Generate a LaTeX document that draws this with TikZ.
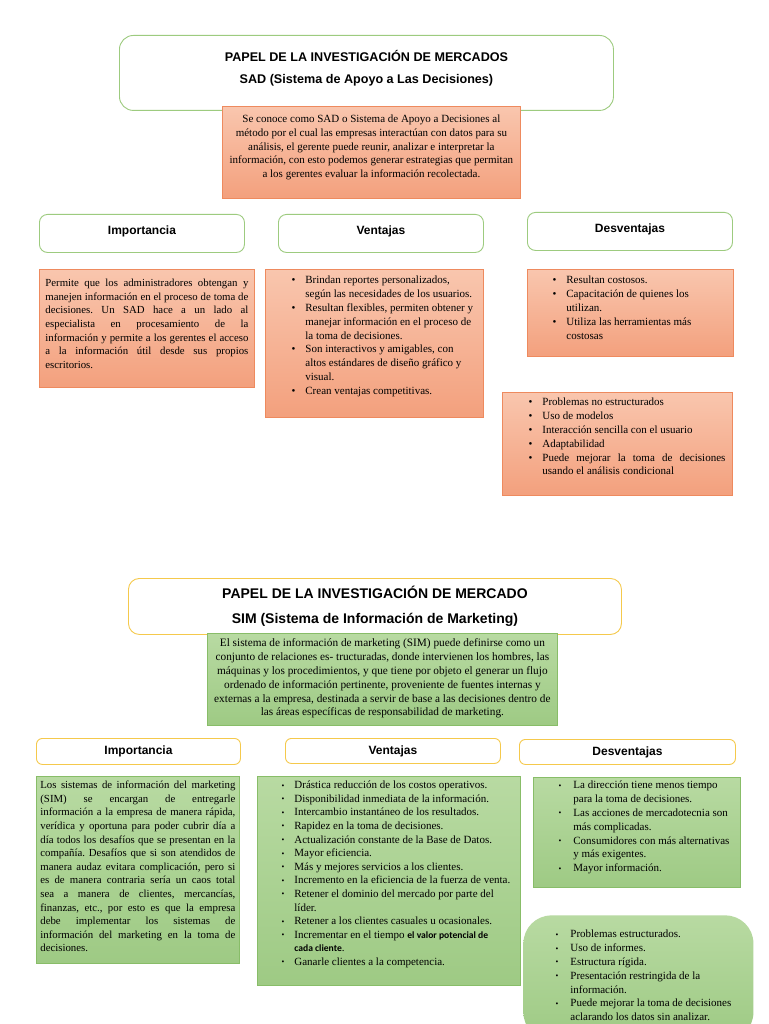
\documentclass[tikz,border=0pt]{standalone}
\usepackage{fontspec}
\setmainfont{Liberation Serif}
\newfontfamily\sanscab{Liberation Sans}
\newfontfamily\calib{Carlito}
\usetikzlibrary{positioning}

\definecolor{verdeTit}{HTML}{9DCB7F}
\definecolor{amarTit}{HTML}{F5C94C}
\definecolor{narArriba}{HTML}{F9C6AE}
\definecolor{narAbajo}{HTML}{F3A07D}
\definecolor{narBorde}{HTML}{EE8A5E}
\definecolor{verArriba}{HTML}{B8DAA2}
\definecolor{verAbajo}{HTML}{9ECA84}
\definecolor{verBorde}{HTML}{88BD68}

\setlength{\parindent}{0pt}
\frenchspacing
% caja de texto de ancho y alto fijos, con margen arriba
\newcommand{\bloque}[4]{\parbox[c][#2][t]{#1}{\vspace*{#3}#4}}
% listas con vinetas
\newcommand{\lista}[3]{\raggedright\leftskip=#1\relax\def\sepvin{#2}\def\vin{#3}}
\newcommand{\pto}{\par\noindent\strut\llap{\vin\hspace{\sepvin}}}
\newcommand{\vinA}{\textbullet}
\newcommand{\vinB}{\raisebox{0.6pt}{\fontsize{8}{8}\selectfont\textbullet}}
\newcommand{\txtA}{\fontsize{11}{13.8}\selectfont}
\newcommand{\txtJ}{\fontsize{10.8}{13.6}\selectfont}
\newcommand{\resalta}{\calib\bfseries\fontsize{9.6}{13.6}\selectfont}

\begin{document}
\begin{tikzpicture}[x=1pt, y=-1pt,
  titulo/.style={draw=#1, line width=0.9pt, fill=white, anchor=north west, inner sep=0pt, font=\sanscab\bfseries},
  cajaNar/.style={draw=narBorde, line width=0.8pt, top color=narArriba, bottom color=narAbajo, anchor=north west, inner ysep=0pt, inner xsep=7pt},
  cajaVer/.style={draw=verBorde, line width=0.8pt, top color=verArriba, bottom color=verAbajo, anchor=north west, inner ysep=0pt, inner xsep=7pt}]

\path[use as bounding box, fill=white] (0,0) rectangle (768,1024);

% ---------------- SAD ----------------
\node[titulo=verdeTit, rounded corners=14pt] (tituloSAD) at (119,35)
  {\bloque{494pt}{75pt}{11pt}{\centering\fontsize{12.6}{22}\selectfont\strut PAPEL DE LA INVESTIGACIÓN DE MERCADOS\\ SAD (Sistema de Apoyo a Las Decisiones)}};

\node[cajaNar, inner xsep=4pt] (textoSAD) at (222,106)
  {\bloque{290pt}{92pt}{6.8pt}{\fontsize{11}{13.7}\selectfont\centering\strut Se conoce como SAD o Sistema de Apoyo a Decisiones al\\
   método por el cual las empresas interactúan con datos para su\\
   análisis, el gerente puede reunir, analizar e interpretar la\\
   información, con esto podemos generar estrategias que permitan\\
   a los gerentes evaluar la información recolectada.}};

% encabezados
\node[titulo=verdeTit, rounded corners=8pt] (cabImpSAD) at (39,214)
  {\bloque{205pt}{38pt}{10.5pt}{\centering\fontsize{12}{14}\selectfont\strut Importancia}};
\node[titulo=verdeTit, rounded corners=8pt] (cabVenSAD) at (278,214)
  {\bloque{205pt}{38pt}{10.5pt}{\centering\fontsize{12}{14}\selectfont\strut Ventajas}};
\node[titulo=verdeTit, rounded corners=8pt] (cabDesSAD) at (527,212)
  {\bloque{205pt}{38pt}{10.5pt}{\centering\fontsize{12}{14}\selectfont\strut Desventajas}};

% cuerpos
\node[cajaNar, inner xsep=6pt] (impSAD) at (39,269)
  {\bloque{203pt}{118pt}{7.8pt}{\txtJ\strut Permite que los administradores obtengan y\linebreak
   manejen información en el proceso de toma de\linebreak
   decisiones. Un SAD hace a un lado al\linebreak
   especialista en procesamiento de la\linebreak
   información y permite a los gerentes el acceso\linebreak
   a la información útil desde sus propios\linebreak
   escritorios.}};

\node[cajaNar] (venSAD) at (265,269)
  {\bloque{204pt}{148pt}{4.8pt}{\txtA\lista{33pt}{10pt}{\vinA}%
   \pto Brindan reportes personalizados,\\ según las necesidades de los usuarios.
   \pto Resultan flexibles, permiten obtener y\\ manejar información en el proceso de\\ la toma de decisiones.
   \pto Son interactivos y amigables, con\\ altos estándares de diseño gráfico y\\ visual.
   \pto Crean ventajas competitivas.}};

\node[cajaNar] (desSAD) at (527,269)
  {\bloque{192pt}{87pt}{4.8pt}{\txtA\lista{32pt}{10pt}{\vinA}%
   \pto Resultan costosos.
   \pto Capacitación de quienes los\\ utilizan.
   \pto Utiliza las herramientas más\\ costosas}};

\node[cajaNar] (extraSAD) at (502,392)
  {\bloque{216pt}{103pt}{3.8pt}{\txtA\lista{33pt}{10pt}{\vinA}%
   \pto Problemas no estructurados
   \pto Uso de modelos
   \pto Interacción sencilla con el usuario
   \pto Adaptabilidad
   \pto\rightskip=0pt\relax Puede mejorar la toma de decisiones\linebreak usando el análisis condicional}};

% ---------------- SIM ----------------
\node[titulo=amarTit, rounded corners=11pt] (tituloSIM) at (128,578)
  {\bloque{493pt}{56pt}{2.5pt}{\centering\fontsize{14}{25}\selectfont\strut PAPEL DE LA INVESTIGACIÓN DE MERCADO\\ SIM (Sistema de Información de Marketing)}};

\node[cajaVer, inner xsep=1pt] (textoSIM) at (207,633)
  {\bloque{348pt}{92pt}{3.8pt}{\fontsize{11.3}{13.8}\selectfont\centering\strut El sistema de información de marketing (SIM) puede definirse como un\\
   conjunto de relaciones es- tructuradas, donde intervienen los hombres, las\\
   máquinas y los procedimientos, y que tiene por objeto el generar un flujo\\
   ordenado de información pertinente, proveniente de fuentes internas y\\
   externas a la empresa, destinada a servir de base a las decisiones dentro de\\
   las áreas específicas de responsabilidad de marketing.}};

% encabezados
\node[titulo=amarTit, rounded corners=6pt] (cabImpSIM) at (36,738)
  {\bloque{204pt}{26pt}{6.5pt}{\centering\fontsize{12}{14}\selectfont\strut Importancia}};
\node[titulo=amarTit, rounded corners=6pt] (cabVenSIM) at (285,738)
  {\bloque{215pt}{25pt}{6pt}{\centering\fontsize{12}{14}\selectfont\strut Ventajas}};
\node[titulo=amarTit, rounded corners=6pt] (cabDesSIM) at (519,739)
  {\bloque{216pt}{25pt}{6pt}{\centering\fontsize{12}{14}\selectfont\strut Desventajas}};

% cuerpos
\node[cajaVer, inner xsep=4pt] (impSIM) at (36,776)
  {\bloque{195pt}{187pt}{2.8pt}{\txtJ\strut Los sistemas de información del marketing\linebreak
   (SIM) se encargan de entregarle\linebreak
   información a la empresa de manera rápida,\linebreak
   verídica y oportuna para poder cubrir día a\linebreak
   día todos los desafíos que se presentan en la\linebreak
   compañía. Desafíos que si son atendidos de\linebreak
   manera audaz evitara complicación, pero si\linebreak
   es de manera contraria sería un caos total\linebreak
   sea a manera de clientes, mercancías,\linebreak
   finanzas, etc., por esto es que la empresa\linebreak
   debe implementar los sistemas de\linebreak
   información del marketing en la toma de\linebreak
   decisiones.}};

\node[cajaVer] (venSIM) at (257,776)
  {\bloque{249pt}{209pt}{2.8pt}{\fontsize{11}{13.6}\selectfont\lista{30pt}{10pt}{\vinB}%
   \pto Drástica reducción de los costos operativos.
   \pto Disponibilidad inmediata de la información.
   \pto Intercambio instantáneo de los resultados.
   \pto Rapidez en la toma de decisiones.
   \pto Actualización constante de la Base de Datos.
   \pto Mayor eficiencia.
   \pto Más y mejores servicios a los clientes.
   \pto Incremento en la eficiencia de la fuerza de venta.
   \pto Retener el dominio del mercado por parte del\\ líder.
   \pto Retener a los clientes casuales u ocasionales.
   \pto Incrementar en el tiempo {\resalta el valor potencial de}\\ {\resalta cada cliente}.
   \pto Ganarle clientes a la competencia.}};

\node[cajaVer] (desSIM) at (533,777)
  {\bloque{193pt}{110pt}{1.8pt}{\txtA\lista{33pt}{12pt}{\vinB}%
   \pto La dirección tiene menos tiempo\\ para la toma de decisiones.
   \pto Las acciones de mercadotecnia son\\ más complicadas.
   \pto Consumidores con más alternativas\\ y más exigentes.
   \pto Mayor información.}};

\node[cajaVer, draw=none, rounded corners=28pt] (extraSIM) at (523,915)
  {\bloque{216pt}{125pt}{12.8pt}{\txtA\lista{40pt}{12pt}{\vinB}%
   \pto Problemas estructurados.
   \pto Uso de informes.
   \pto Estructura rígida.
   \pto Presentación restringida de la\\ información.
   \pto Puede mejorar la toma de decisiones\\ aclarando los datos sin analizar.}};

\end{tikzpicture}
\end{document}
